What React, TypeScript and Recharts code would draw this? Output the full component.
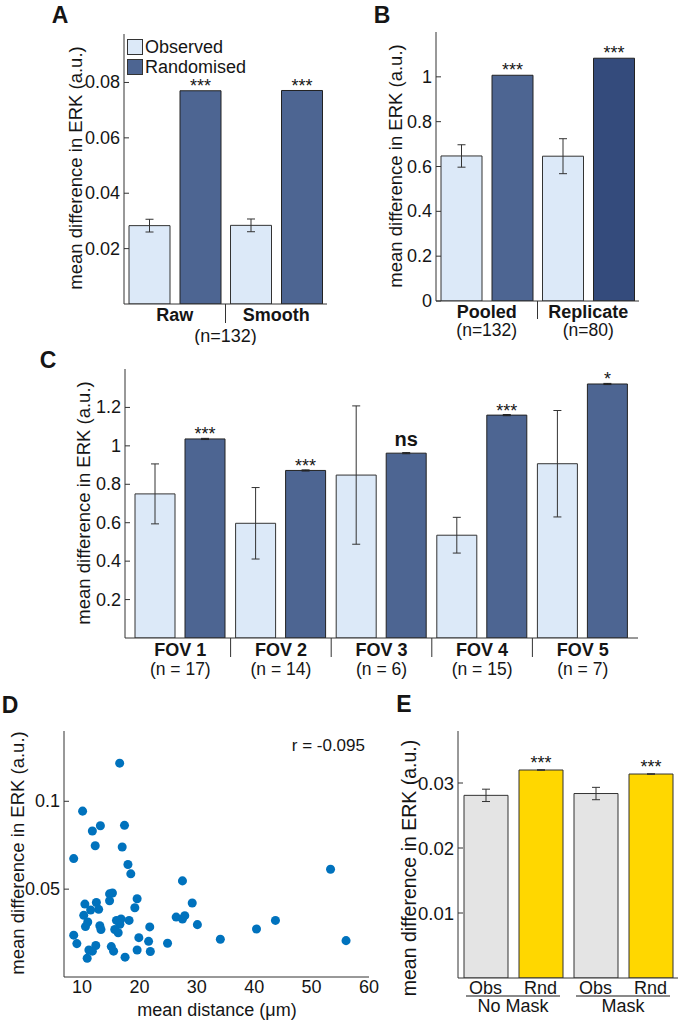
import React from 'react';
import {
  BarChart, Bar, XAxis, YAxis, ErrorBar, LabelList, Cell, Legend,
  ScatterChart, Scatter,
} from 'recharts';

const FONT = '"Liberation Sans", Arial, Helvetica, sans-serif';
const INK = '#151515';
const AXIS = '#333333';
const OBS_COLOR = '#dce9f8';
const RND_COLOR = '#4d6592';
const RND_DARK = '#344b7c';
const GREY = '#e4e4e4';
const YELLOW = '#ffd700';
const DOT = '#0072bd';

// ---------- Panel A ----------
const aCategories = ['Raw', 'Smooth'];
const aSampleSize = '(n=132)';
const aObserved = [0.0283, 0.0284];
const aObservedErr = [0.0023, 0.0023];
const aRandomised = [0.077, 0.0771];
const aSignificance = ['***', '***'];
const aTicks = [0.02, 0.04, 0.06, 0.08];
const aLegend = ['Observed', 'Randomised'];

// ---------- Panel B ----------
const bCategories = ['Pooled', 'Replicate'];
const bSampleSizes = ['(n=132)', '(n=80)'];
const bObserved = [0.647, 0.646];
const bObservedErr = [0.05, 0.078];
const bRandomised = [1.007, 1.083];
const bSignificance = ['***', '***'];
const bTicks = [0, 0.2, 0.4, 0.6, 0.8, 1];

// ---------- Panel C ----------
const cCategories = ['FOV 1', 'FOV 2', 'FOV 3', 'FOV 4', 'FOV 5'];
const cSampleSizes = ['(n = 17)', '(n = 14)', '(n = 6)', '(n = 15)', '(n = 7)'];
const cObserved = [0.75, 0.597, 0.848, 0.535, 0.907];
const cObservedErr = [0.156, 0.186, 0.36, 0.093, 0.277];
const cRandomised = [1.036, 0.872, 0.962, 1.16, 1.322];
const cRandomisedErr = [0.003, 0.003, 0.003, 0.003, 0.003];
const cSignificance = ['***', '***', 'ns', '***', '*'];
const cTicks = [0.2, 0.4, 0.6, 0.8, 1, 1.2];

// ---------- Panel D ----------
const dDistance = [
  16.56, 10.1, 11.8, 13.2, 17.4, 12.3, 17.0, 8.55, 18.0, 18.5, 27.5, 53.3,
  14.8, 15.3, 10.5, 12.5, 14.8, 19.6, 29.2, 11.5, 12.9, 19.2, 10.3, 11.0,
  10.6, 13.1, 13.3, 16.0, 16.8, 16.6, 15.7, 16.3, 18.2, 26.4, 27.5, 27.9,
  30.1, 21.8, 19.9, 21.6, 24.9, 34.1, 40.4, 43.7, 56.0, 8.55, 9.1, 11.2,
  11.8, 12.4, 15.1, 15.5, 19.6, 21.9, 10.9, 17.5,
];
const dDifference = [
  0.1217, 0.0944, 0.0831, 0.0861, 0.0863, 0.0747, 0.074, 0.0674, 0.064, 0.0587, 0.0547, 0.0613,
  0.0473, 0.0478, 0.0415, 0.0424, 0.0434, 0.0445, 0.0421, 0.0381, 0.0385, 0.0394, 0.0351, 0.0313,
  0.0287, 0.0292, 0.027, 0.0322, 0.033, 0.03, 0.027, 0.0252, 0.0322, 0.0341, 0.033, 0.0349,
  0.0298, 0.0285, 0.0224, 0.0203, 0.0192, 0.0215, 0.0273, 0.0322, 0.0207, 0.0238, 0.019, 0.0154,
  0.0147, 0.0179, 0.0173, 0.0147, 0.0154, 0.0145, 0.0107, 0.0113,
];
const dXTicks = [10, 20, 30, 40, 50, 60];
const dYTicks = [0.05, 0.1];
const dCorrelation = 'r = -0.095';

// ---------- Panel E ----------
const eCategories = ['Obs', 'Rnd', 'Obs', 'Rnd'];
const eGroups = ['No Mask', 'Mask'];
const eValues = [0.0281, 0.032, 0.02838, 0.03138];
const eErr = [0.00095, 0.00005, 0.00095, 0.00005];
const eSignificance = ['', '***', '', '***'];
const eTicks = [0.01, 0.02, 0.03];

const yTitle = 'mean difference in ERK (a.u.)';

// ---------- data tables ----------
const aData = aCategories.map((c, i) => ({
  cat: c, obs: aObserved[i], obsErr: aObservedErr[i], rnd: aRandomised[i], sig: aSignificance[i],
}));
const bData = bCategories.map((c, i) => ({
  cat: c, obs: bObserved[i], obsErr: bObservedErr[i], rnd: bRandomised[i], sig: bSignificance[i],
}));
const cData = cCategories.map((c, i) => ({
  cat: c, obs: cObserved[i], obsErr: cObservedErr[i], rnd: cRandomised[i], rndErr: cRandomisedErr[i], sig: cSignificance[i],
}));
const dData = dDistance.map((x, i) => ({ x, y: dDifference[i] }));
const eData = eCategories.map((c, i) => ({
  key: String(i), label: c, value: eValues[i], err: eErr[i], sig: eSignificance[i],
}));

// ---------- helpers ----------
const txt = { fontFamily: FONT, fill: INK } as const;

const makeYTick = (fs: number) => (p: any) => (
  <g>
    <line x1={p.x + 4} x2={p.x + 9} y1={p.y} y2={p.y} stroke={AXIS} strokeWidth={1} />
    <text x={p.x} y={p.y} textAnchor="end" dominantBaseline="central" fontSize={fs} {...txt}>
      {p.payload.value}
    </text>
  </g>
);

const makeSig = (lift: number) => (p: any) => {
  const { x, y, width, value } = p;
  if (!value) return null;
  const ns = value === 'ns';
  return (
    <text
      x={Number(x) + Number(width) / 2}
      y={ns ? Number(y) - 7 : Number(y) + lift}
      textAnchor="middle"
      fontSize={ns ? 20 : 18}
      fontWeight={ns ? 'bold' : 'normal'}
      {...txt}
    >
      {value}
    </text>
  );
};

const RightAxis = (domain: number[], ticks: number[]) => (
  <YAxis
    yAxisId="r"
    orientation="right"
    width={0}
    mirror
    domain={domain}
    ticks={ticks}
    allowDataOverflow
    tick={false}
    tickSize={5}
    axisLine={{ stroke: AXIS }}
    tickLine={{ stroke: AXIS }}
  />
);

const TopAxis = (dataKey: string, type: 'category' | 'number' = 'category', domain?: number[]) => (
  <XAxis
    xAxisId="t"
    orientation="top"
    dataKey={dataKey}
    type={type}
    domain={domain}
    height={0}
    tick={false}
    tickLine={false}
    axisLine={{ stroke: AXIS }}
  />
);

// ---------- X ticks ----------
const A_BAND = 203 / aCategories.length;
const aXTick = (p: any) => {
  const { x, y, index, payload } = p;
  return (
    <g>
      <text x={x} y={y + 11} textAnchor="middle" dominantBaseline="central" fontSize={18} fontWeight="bold" {...txt}>
        {payload.value}
      </text>
      {index < aCategories.length - 1 && (
        <g>
          <line x1={x + A_BAND / 2} x2={x + A_BAND / 2} y1={y} y2={y + 19} stroke={AXIS} />
          <text x={x + A_BAND / 2} y={y + 31.5} textAnchor="middle" dominantBaseline="central" fontSize={18} {...txt}>
            {aSampleSize}
          </text>
        </g>
      )}
    </g>
  );
};

const B_BAND = 203 / bCategories.length;
const bXTick = (p: any) => {
  const { x, y, index, payload } = p;
  return (
    <g>
      <text x={x} y={y + 10.5} textAnchor="middle" dominantBaseline="central" fontSize={18} fontWeight="bold" {...txt}>
        {payload.value}
      </text>
      <text x={x} y={y + 29} textAnchor="middle" dominantBaseline="central" fontSize={17.5} {...txt}>
        {bSampleSizes[index]}
      </text>
      {index < bCategories.length - 1 && (
        <line x1={x + B_BAND / 2} x2={x + B_BAND / 2} y1={y} y2={y + 18} stroke={AXIS} />
      )}
    </g>
  );
};

const C_BAND = (513 - 10) / cCategories.length;
const cXTick = (p: any) => {
  const { x, y, index, payload } = p;
  return (
    <g>
      <text x={x} y={y + 11.5} textAnchor="middle" dominantBaseline="central" fontSize={18} fontWeight="bold" {...txt}>
        {payload.value}
      </text>
      <text x={x} y={y + 30.5} textAnchor="middle" dominantBaseline="central" fontSize={17.5} {...txt}>
        {cSampleSizes[index]}
      </text>
      {index < cCategories.length - 1 && (
        <line x1={x + C_BAND / 2} x2={x + C_BAND / 2} y1={y} y2={y + 19} stroke={AXIS} />
      )}
    </g>
  );
};

const dXTick = (p: any) => (
  <text x={p.x} y={p.y + 10} textAnchor="middle" dominantBaseline="central" fontSize={18} {...txt}>
    {p.payload.value}
  </text>
);

const E_BAND = 220 / eCategories.length;
const eXTick = (p: any) => {
  const { x, y, index } = p;
  const groupStart = index % 2 === 0;
  const cx = x + E_BAND / 2;
  return (
    <g>
      <text x={x} y={y + 9.5} textAnchor="middle" dominantBaseline="central" fontSize={18} {...txt}>
        {eCategories[index]}
      </text>
      {groupStart && (
        <g>
          <line x1={cx - 47} x2={cx + 47} y1={y + 18} y2={y + 18} stroke={INK} strokeWidth={1.2} />
          <text x={cx} y={y + 28} textAnchor="middle" dominantBaseline="central" fontSize={18} {...txt}>
            {eGroups[index / 2]}
          </text>
        </g>
      )}
    </g>
  );
};

const aLegendColors = [OBS_COLOR, RND_COLOR];
const renderLegendA = () => (
  <div style={{ fontFamily: FONT, fontSize: 18, color: INK, lineHeight: '20px' }}>
    {aLegend.map((l, i) => (
      <div key={l} style={{ display: 'flex', alignItems: 'center', height: 20 }}>
        <span
          style={{
            display: 'inline-block', width: 14, height: 14, background: aLegendColors[i],
            border: `1px solid ${AXIS}`, marginRight: 2,
          }}
        />
        <span>{l}</span>
      </div>
    ))}
  </div>
);

const abs = (left: number, top: number): React.CSSProperties => ({ position: 'absolute', left, top });

export default function App() {
  return (
    <div style={{ position: 'absolute', left: 0, top: 0, width: 683, height: 1022, background: '#fff', overflow: 'hidden' }}>
      {/* Panel A */}
      <div style={abs(0, 0)}>
        <BarChart width={340} height={345} data={aData} margin={{ top: 34, right: 13, bottom: 0, left: 0 }} barSize={41} barGap={10}>
          <XAxis dataKey="cat" interval={0} tickLine={false} tickSize={0} tickMargin={0} height={41} tick={aXTick} axisLine={{ stroke: AXIS }} />
          {TopAxis('cat')}
          <YAxis width={124} domain={[0, 0.0975]} ticks={aTicks} allowDataOverflow tickLine={false} tickSize={0} tickMargin={4} tick={makeYTick(18)} axisLine={{ stroke: AXIS }} />
          {RightAxis([0, 0.0975], aTicks)}
          <Legend
            layout="horizontal"
            verticalAlign="middle"
            align="center"
            wrapperStyle={{ position: 'absolute', left: 127, top: 37, width: 'auto', height: 'auto', margin: 0 }}
            content={renderLegendA}
          />
          <Bar dataKey="obs" name="Observed" fill={OBS_COLOR} stroke={AXIS} strokeWidth={1} isAnimationActive={false}>
            <ErrorBar dataKey="obsErr" width={4} stroke={AXIS} strokeWidth={1} isAnimationActive={false} />
          </Bar>
          <Bar dataKey="rnd" name="Randomised" fill={RND_COLOR} stroke="#222" strokeWidth={1} isAnimationActive={false}>
            <LabelList dataKey="sig" content={makeSig(1.5)} />
          </Bar>
        </BarChart>
      </div>

      {/* Panel B */}
      <div style={abs(340, 0)}>
        <BarChart width={343} height={345} data={bData} margin={{ top: 32, right: 44, bottom: 0, left: 0 }} barSize={41} barGap={10}>
          <XAxis dataKey="cat" interval={0} tickLine={false} tickSize={0} tickMargin={0} height={44} tick={bXTick} axisLine={{ stroke: AXIS }} />
          {TopAxis('cat')}
          <YAxis width={96} domain={[0, 1.2]} ticks={bTicks} allowDataOverflow tickLine={false} tickSize={0} tickMargin={4} tick={makeYTick(18)} axisLine={{ stroke: AXIS }} />
          {RightAxis([0, 1.2], bTicks)}
          <Bar dataKey="obs" fill={OBS_COLOR} stroke={AXIS} strokeWidth={1} isAnimationActive={false}>
            <ErrorBar dataKey="obsErr" width={4} stroke={AXIS} strokeWidth={1} isAnimationActive={false} />
          </Bar>
          <Bar dataKey="rnd" stroke="#222" strokeWidth={1} isAnimationActive={false}>
            {bData.map((d, i) => (
              <Cell key={d.cat} fill={i === 0 ? RND_COLOR : RND_DARK} />
            ))}
            <LabelList dataKey="sig" content={makeSig(1)} />
          </Bar>
        </BarChart>
      </div>

      {/* Panel C */}
      <div style={abs(0, 340)}>
        <BarChart width={683} height={340} data={cData} margin={{ top: 29, right: 45, bottom: 0, left: 0 }} barSize={40} barGap={10}>
          <XAxis dataKey="cat" interval={0} padding={{ left: 5, right: 5 }} tickLine={false} tickSize={0} tickMargin={0} height={42} tick={cXTick} axisLine={{ stroke: AXIS }} />
          {TopAxis('cat')}
          <YAxis width={125} domain={[0, 1.4]} ticks={cTicks} allowDataOverflow tickLine={false} tickSize={0} tickMargin={4} tick={makeYTick(18)} axisLine={{ stroke: AXIS }} />
          {RightAxis([0, 1.4], cTicks)}
          <Bar dataKey="obs" fill={OBS_COLOR} stroke={AXIS} strokeWidth={1} isAnimationActive={false}>
            <ErrorBar dataKey="obsErr" width={4} stroke={AXIS} strokeWidth={1} isAnimationActive={false} />
          </Bar>
          <Bar dataKey="rnd" fill={RND_COLOR} stroke="#222" strokeWidth={1} isAnimationActive={false}>
            <ErrorBar dataKey="rndErr" width={4} stroke="#222" strokeWidth={1} isAnimationActive={false} />
            <LabelList dataKey="sig" content={makeSig(1.5)} />
          </Bar>
        </BarChart>
      </div>

      {/* Panel D */}
      <div style={abs(0, 690)}>
        <ScatterChart width={400} height={332} margin={{ top: 41, right: 31, bottom: 0, left: 0 }}>
          <XAxis type="number" dataKey="x" domain={[6.86, 60]} ticks={dXTicks} allowDataOverflow interval={0} tickLine={false} tickSize={0} tickMargin={0} height={45} tick={dXTick} axisLine={{ stroke: AXIS }} />
          {TopAxis('x', 'number', [6.86, 60])}
          <YAxis type="number" dataKey="y" width={64} domain={[0, 0.14]} ticks={dYTicks} allowDataOverflow tickLine={false} tickSize={0} tickMargin={4} tick={makeYTick(18)} axisLine={{ stroke: AXIS }} />
          {RightAxis([0, 0.14], dYTicks)}
          <Scatter data={dData} fill={DOT} isAnimationActive={false} />
        </ScatterChart>
      </div>

      {/* Panel E */}
      <div style={abs(400, 690)}>
        <BarChart width={283} height={332} data={eData} margin={{ top: 41, right: 5, bottom: 0, left: 0 }} barSize={44}>
          <XAxis dataKey="key" interval={0} tickLine={false} tickSize={0} tickMargin={0} height={44} tick={eXTick} axisLine={{ stroke: AXIS }} />
          {TopAxis('key')}
          <YAxis width={58} domain={[0, 0.038]} ticks={eTicks} allowDataOverflow tickLine={false} tickSize={0} tickMargin={4} tick={makeYTick(18.5)} axisLine={{ stroke: AXIS }} />
          {RightAxis([0, 0.038], eTicks)}
          <Bar dataKey="value" stroke={AXIS} strokeWidth={1} isAnimationActive={false}>
            {eData.map((d) => (
              <Cell key={d.key} fill={d.label === 'Obs' ? GREY : YELLOW} />
            ))}
            <ErrorBar dataKey="err" width={4} stroke={AXIS} strokeWidth={1} isAnimationActive={false} />
            <LabelList dataKey="sig" content={makeSig(-1)} />
          </Bar>
        </BarChart>
      </div>

      {/* Panel letters and axis titles */}
      <svg width={683} height={1022} style={{ position: 'absolute', left: 0, top: 0, pointerEvents: 'none' }}>
        <g fontFamily={FONT} fill={INK} fontWeight="bold" fontSize={23}>
          <text x={60} y={15} textAnchor="middle" dominantBaseline="central">A</text>
          <text x={382} y={15} textAnchor="middle" dominantBaseline="central">B</text>
          <text x={48} y={360} textAnchor="middle" dominantBaseline="central">C</text>
          <text x={10} y={705} textAnchor="middle" dominantBaseline="central">D</text>
          <text x={404} y={704} textAnchor="middle" dominantBaseline="central">E</text>
        </g>
        <g fontFamily={FONT} fill={INK} fontSize={18.5}>
          <text transform="translate(75,168) rotate(-90)" textAnchor="middle" dominantBaseline="central">{yTitle}</text>
          <text transform="translate(395,166) rotate(-90)" textAnchor="middle" dominantBaseline="central">{yTitle}</text>
          <text transform="translate(83,503) rotate(-90)" textAnchor="middle" dominantBaseline="central">{yTitle}</text>
          <text transform="translate(17,853) rotate(-90)" textAnchor="middle" dominantBaseline="central">{yTitle}</text>
          <text transform="translate(409,868) rotate(-90)" textAnchor="middle" dominantBaseline="central" fontSize={19.5}>{yTitle}</text>
          <text x={217} y={1010} textAnchor="middle" dominantBaseline="central" fontSize={18}>mean distance (μm)</text>
          <text x={365} y={745} textAnchor="end" dominantBaseline="central" fontSize={17}>{dCorrelation}</text>
        </g>
      </svg>
    </div>
  );
}
